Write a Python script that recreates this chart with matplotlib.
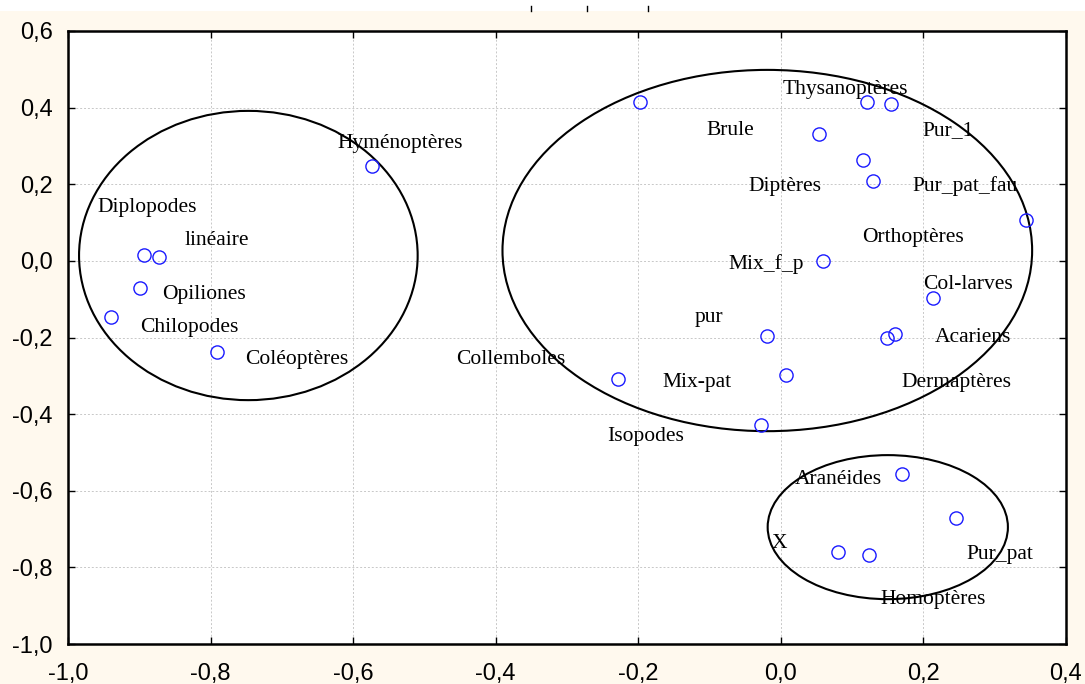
import matplotlib
matplotlib.use("Agg")
import matplotlib.pyplot as plt
from matplotlib.patches import Ellipse, Rectangle
from matplotlib.lines import Line2D
from matplotlib.ticker import FuncFormatter, MultipleLocator
from matplotlib.transforms import offset_copy

# Point coordinates (factor 1 / factor 2)
pts_x = [-0.573, -0.893, -0.872, -0.899, -0.940, -0.791,
         -0.197, 0.121, 0.154, 0.053, 0.115, 0.129, 0.344, 0.059,
         0.213, -0.020, 0.160, 0.149, -0.229, 0.007, -0.028,
         0.170, 0.246, 0.080, 0.124]
pts_y = [0.247, 0.015, 0.010, -0.071, -0.147, -0.238,
         0.415, 0.415, 0.409, 0.331, 0.263, 0.208, 0.107, -0.001,
         -0.097, -0.196, -0.191, -0.202, -0.309, -0.298, -0.429,
         -0.557, -0.672, -0.760, -0.768]

# Text labels and where they sit
labels = ["Hyménoptères", "Diplopodes", "linéaire", "Opiliones", "Chilopodes",
          "Coléoptères", "Collemboles", "Thysanoptères", "Brule", "Pur_1",
          "Diptères", "Pur_pat_fau", "Orthoptères", "Mix_f_p", "Col-larves",
          "pur", "Acariens", "Mix-pat", "Dermaptères", "Isopodes",
          "Aranéides", "X", "Pur_pat", "Homoptères"]
lab_x = [-0.622, -0.959, -0.837, -0.868, -0.899,
         -0.751, -0.455, 0.003, -0.105, 0.199,
         -0.045, 0.184, 0.114, -0.074, 0.199,
         -0.121, 0.216, -0.166, 0.169, -0.243,
         0.020, -0.013, 0.260, 0.139]
lab_y = [0.315, 0.146, 0.060, -0.081, -0.165,
         -0.249, -0.249, 0.456, 0.347, 0.347,
         0.203, 0.203, 0.070, 0.000, -0.053,
         -0.139, -0.191, -0.309, -0.309, -0.450,
         -0.562, -0.729, -0.758, -0.875]

# Group ellipses: centre x, centre y, width, height
ell_cx = [-0.747, -0.019, 0.150]
ell_cy = [0.014, 0.027, -0.695]
ell_w = [0.475, 0.743, 0.337]
ell_h = [0.755, 0.943, 0.376]

cream = "#fff9ee"

fig = plt.figure(figsize=(10.85, 6.84), dpi=100, facecolor="white")
fig.patches.append(Rectangle((0, 0), 1, (684 - 11) / 684, transform=fig.transFigure,
                             facecolor=cream, edgecolor="none", zorder=-10))
for xp in [531, 587, 648]:
    fig.lines.append(Line2D([xp / 1085, xp / 1085], [1 - 6 / 684, 1 - 11 / 684],
                            transform=fig.transFigure, color="black", lw=1))

ax = fig.add_axes([68 / 1085, 40 / 684, 998 / 1085, 613 / 684])
ax.set_facecolor("white")

ax.plot(pts_x, pts_y, linestyle="none", marker="o", markersize=9.5,
        markerfacecolor="none", markeredgecolor="#1a1aff", markeredgewidth=1.0, zorder=3)

# labels nudged down a few pixels so the glyph body sits on the anchor
txt_trans = offset_copy(ax.transData, fig=fig, x=0, y=-3, units="dots")
for t, x, y in zip(labels, lab_x, lab_y):
    ax.text(x, y, t, ha="left", va="center", fontsize=15.5, transform=txt_trans,
            family="Liberation Serif", color="black", zorder=4)

for cx, cy, w, h in zip(ell_cx, ell_cy, ell_w, ell_h):
    ax.add_patch(Ellipse((cx, cy), w, h, fill=False, edgecolor="black", lw=1.5, zorder=2))

ax.set_xlim(-1.0, 0.4)
ax.set_ylim(-1.0, 0.6)
ax.xaxis.set_major_locator(MultipleLocator(0.2))
ax.yaxis.set_major_locator(MultipleLocator(0.2))

fmt = FuncFormatter(lambda v, p: f"{v + 0.0:.1f}".replace(".", ",").replace("-0,0", "0,0"))
ax.xaxis.set_major_formatter(fmt)
ax.yaxis.set_major_formatter(fmt)

ax.grid(True, linestyle=(0, (2, 2)), color="#c8c8c8", lw=0.7)
ax.tick_params(direction="in", length=5, width=1, top=True, right=True,
               labelsize=17, colors="black")
ax.tick_params(axis="x", pad=14)
ax.tick_params(axis="y", pad=11)
for lab in ax.get_xticklabels() + ax.get_yticklabels():
    lab.set_family("Liberation Sans")

for s in ax.spines.values():
    s.set_linewidth(1.8)
    s.set_color("black")

fig.savefig("out.png", dpi=100, facecolor=fig.get_facecolor())
